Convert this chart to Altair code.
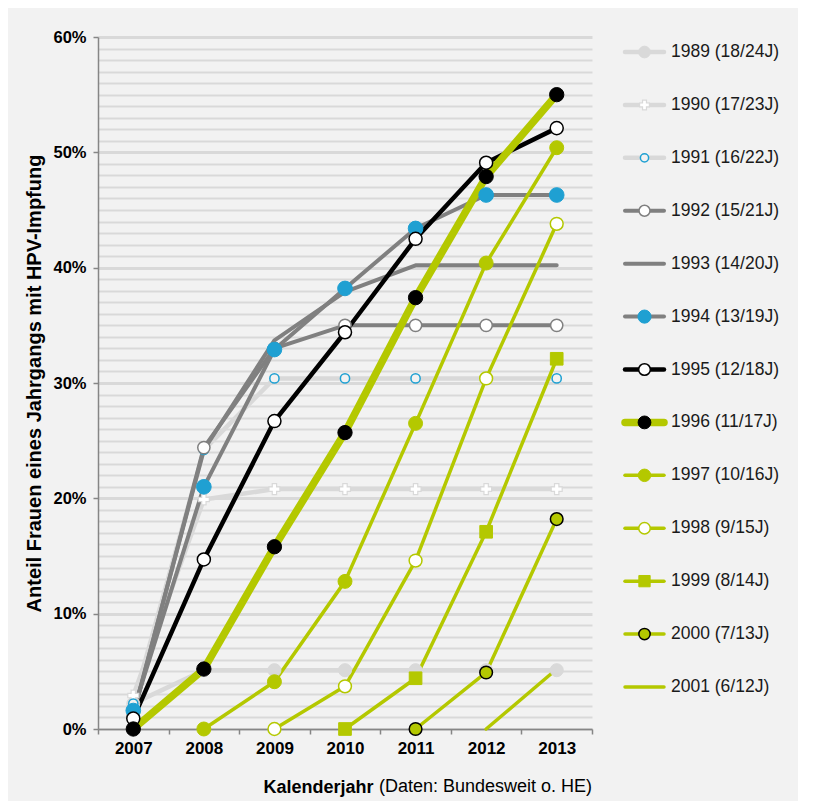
import altair as alt
import pandas as pd

# ---------------- data ----------------
years = ["2007", "2008", "2009", "2010", "2011", "2012", "2013"]

names = ["1989 (18/24J)", "1990 (17/23J)", "1991 (16/22J)", "1992 (15/21J)",
         "1993 (14/20J)", "1994 (13/19J)", "1995 (12/18J)", "1996 (11/17J)",
         "1997 (10/16J)", "1998 (9/15J)", "1999 (8/14J)", "2000 (7/13J)",
         "2001 (6/12J)"]

# share of women (%) per calendar year
s1989 = [2.2, 5.1, 5.1, 5.1, 5.1, 5.1, 5.1]
s1990 = [2.9, 19.9, 20.8, 20.8, 20.8, 20.8, 20.8]
s1991 = [2.2, 24.2, 30.4, 30.4, 30.4, 30.4, 30.4]
s1992 = [1.2, 24.4, 33.0, 35.0, 35.0, 35.0, 35.0]
s1993 = [1.3, 24.2, 33.7, 37.9, 40.2, 40.2, 40.2]
s1994 = [1.6, 21.0, 32.9, 38.2, 43.4, 46.3, 46.3]
s1995 = [0.9, 14.7, 26.7, 34.4, 42.5, 49.1, 52.1]
s1996 = [0.0, 5.2, 15.8, 25.7, 37.4, 47.9, 55.0]
s1997 = [None, 0.0, 4.1, 12.8, 26.5, 40.4, 50.4]
s1998 = [None, None, 0.0, 3.7, 14.6, 30.4, 43.8]
s1999 = [None, None, None, 0.0, 4.4, 17.1, 32.1]
s2000 = [None, None, None, None, 0.0, 4.9, 18.2]
s2001 = [None, None, None, None, None, 0.0, 5.2]

all_series = [s1989, s1990, s1991, s1992, s1993, s1994, s1995, s1996,
              s1997, s1998, s1999, s2000, s2001]

note_text = "(Daten: Bundesweit o. HE)"

rows = []
for nm, vals in zip(names, all_series):
    for yr, v in zip(years, vals):
        if v is not None:
            rows.append({"series": nm, "year": yr, "share": v / 100.0})
df = pd.DataFrame(rows)
legend_df = pd.DataFrame({"series": names})
note_df = pd.DataFrame({"t": [note_text]})

# ---------------- styles ----------------
FONT = "Liberation Sans, Arial, sans-serif"
BG = "#f2f2f2"
LIGHT = "#d9d9d9"
DARK = "#808080"
BLUE = "#1fa0d2"
GREEN = "#b4c800"
BLACK = "#000000"
AXIS = "#868686"

line_style = {
    "1989 (18/24J)": (LIGHT, 4.5),
    "1990 (17/23J)": (LIGHT, 4.5),
    "1991 (16/22J)": (LIGHT, 4.5),
    "1992 (15/21J)": (DARK, 4),
    "1993 (14/20J)": (DARK, 4),
    "1994 (13/19J)": (DARK, 4),
    "1995 (12/18J)": (BLACK, 4.5),
    "1996 (11/17J)": (GREEN, 7.5),
    "1997 (10/16J)": (GREEN, 3.5),
    "1998 (9/15J)": (GREEN, 3.5),
    "1999 (8/14J)": (GREEN, 3.5),
    "2000 (7/13J)": (GREEN, 3.5),
    "2001 (6/12J)": (GREEN, 3.5),
}
# shape, size, fill, stroke, strokeWidth
marker_style = {
    "1989 (18/24J)": ("circle", 170, LIGHT, LIGHT, 1),
    "1990 (17/23J)": ("cross", 120, "#ffffff", LIGHT, 1.2),
    "1991 (16/22J)": ("circle", 85, BG, BLUE, 1.5),
    "1992 (15/21J)": ("circle", 150, "#ffffff", DARK, 1.5),
    "1994 (13/19J)": ("circle", 215, BLUE, BLUE, 1),
    "1995 (12/18J)": ("circle", 170, "#ffffff", BLACK, 1.5),
    "1996 (11/17J)": ("circle", 205, BLACK, BLACK, 1),
    "1997 (10/16J)": ("circle", 195, GREEN, GREEN, 1),
    "1998 (9/15J)": ("circle", 165, "#ffffff", GREEN, 1.5),
    "1999 (8/14J)": ("square", 160, GREEN, GREEN, 1),
    "2000 (7/13J)": ("circle", 160, GREEN, BLACK, 1.5),
}

major_test = "round(datum.value * 100) % 10 == 0"
grid_values = [i / 100 for i in range(0, 61)]

yaxis = alt.Axis(
    values=grid_values,
    labelExpr=f"{major_test} ? round(datum.value * 100) + '%' : ''",
    labelOverlap=False,
    labelFont=FONT, labelFontSize=16.5, labelFontWeight="bold", labelColor="#000000",
    labelPadding=7,
    tickSize=5, tickColor=AXIS, tickWidth=1.5,
    tickOpacity={"condition": {"test": major_test, "value": 1}, "value": 0},
    grid=True, gridColor=LIGHT,
    gridWidth={"condition": {"test": major_test, "value": 3}, "value": 1.8},
    domainColor=AXIS, domainWidth=1.5,
    title="Anteil Frauen eines Jahrgangs mit HPV-Impfung",
    titleFont=FONT, titleFontSize=20, titleFontWeight="bold", titleColor="#000000",
    titlePadding=8,
)

xaxis = alt.Axis(
    labelAngle=0, labelFont=FONT, labelFontSize=17, labelFontWeight="bold",
    labelColor="#000000", labelPadding=6,
    tickSize=5, tickBand="extent", tickColor=AXIS, tickWidth=1.5,
    domainColor=AXIS, domainWidth=1.5, grid=False,
    title="Kalenderjahr", titleFont=FONT, titleFontSize=18, titleFontWeight="bold",
    titleColor="#000000", titleX=275, titleY=58, titleAlign="right",
    titleBaseline="middle",
)

X = alt.X("year:O", scale=alt.Scale(type="band", domain=years, paddingInner=0,
                                     paddingOuter=0),
          bandPosition=0.5, axis=xaxis)
Y = alt.Y("share:Q", scale=alt.Scale(domain=[0, 0.6], nice=False, zero=True),
          axis=yaxis)

base = alt.Chart(df)

line_layers = []
for nm in names:
    col, w = line_style[nm]
    line_layers.append(
        base.transform_filter(alt.datum.series == nm)
        .mark_line(color=col, strokeWidth=w, strokeCap="round", strokeJoin="round")
        .encode(x=X, y=Y)
    )

point_layers = []
for nm in names:
    if nm not in marker_style:
        continue
    shp, sz, fl, st, sw = marker_style[nm]
    point_layers.append(
        base.transform_filter(alt.datum.series == nm)
        .mark_point(shape=shp, size=sz, fill=fl, stroke=st, strokeWidth=sw,
                    opacity=1, fillOpacity=1)
        .encode(x=X, y=Y)
    )

note = alt.Chart(note_df).mark_text(
    align="left", baseline="middle", font=FONT, fontSize=18, color="#000000"
).encode(text="t:N", x=alt.value(281), y=alt.value(692 + 58))

main = alt.layer(*line_layers, *point_layers, note).properties(width=494, height=692)

# ---------------- legend panel ----------------
LY = alt.Y("series:N", scale=alt.Scale(type="point", domain=names, padding=0.284),
           axis=None)
lbase = alt.Chart(legend_df)
leg_lines = []
for nm in names:
    col, w = line_style[nm]
    leg_lines.append(
        lbase.transform_filter(alt.datum.series == nm)
        .mark_rule(color=col, strokeWidth=w, strokeCap="round")
        .encode(y=LY, x=alt.value(2), x2=alt.value(41))
    )
leg_points = []
for nm in names:
    if nm not in marker_style:
        continue
    shp, sz, fl, st, sw = marker_style[nm]
    leg_points.append(
        lbase.transform_filter(alt.datum.series == nm)
        .mark_point(shape=shp, size=sz * 0.8, fill=fl, stroke=st, strokeWidth=sw,
                    opacity=1, fillOpacity=1)
        .encode(y=LY, x=alt.value(21.5))
    )
leg_text = lbase.mark_text(
    align="left", baseline="middle", font=FONT, fontSize=17.5, color="#1a1a1a"
).encode(y=LY, x=alt.value(48), text="series:N")

legend = alt.layer(*leg_lines, *leg_points, leg_text).properties(width=170, height=665)

chart = (
    alt.hconcat(main, legend, spacing=31, bounds="flush")
    .resolve_scale(x="independent", y="independent")
    .properties(padding={"left": 16, "top": 21, "right": 5, "bottom": 5})
    .configure(background=BG, font=FONT)
    .configure_view(strokeWidth=0)
)

chart.save("out.html", embed_options={"renderer": "svg", "actions": False})
